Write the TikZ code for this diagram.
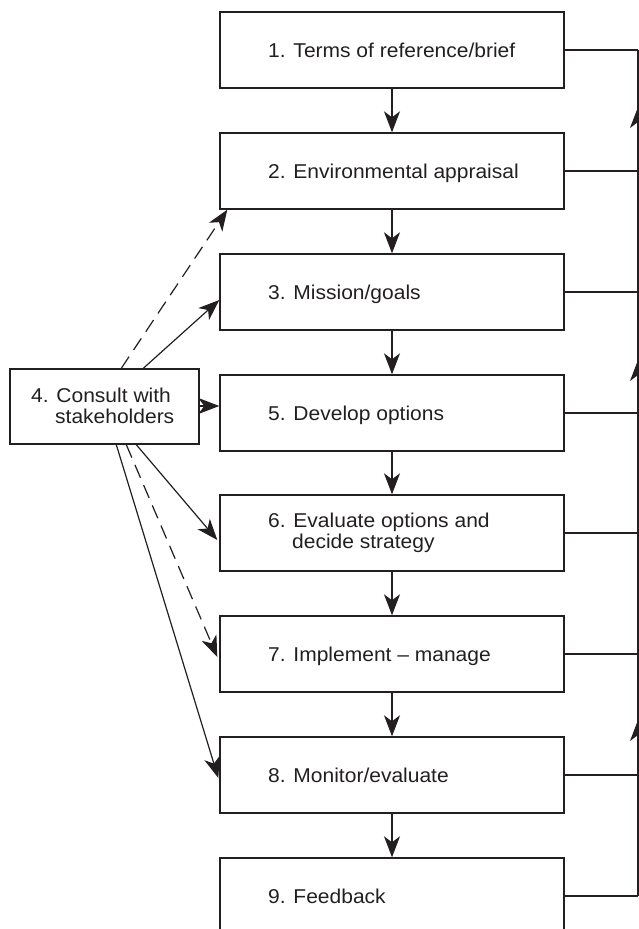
\documentclass[tikz,border=0pt]{standalone}
\usepackage{fontspec}
\setmainfont[FakeStretch=1.05]{Liberation Sans}
\usetikzlibrary{arrows.meta,calc}
\definecolor{ink}{HTML}{231F20}
\begin{document}
\begin{tikzpicture}[x=1pt,y=-1pt,
  stagebox/.style={draw=ink, line width=1.4pt, minimum width=344pt,
    minimum height=76pt, inner sep=0pt},
  sidebox/.style={draw=ink, line width=1.4pt, minimum width=189pt,
    minimum height=75pt, inner sep=0pt},
  lbl/.style={anchor=base west, inner sep=0pt, align=left,
    font=\fontsize{20}{21}\selectfont, text=ink},
  tip/.style={-{Stealth[length=21pt,width=16pt,inset=6pt]}},
  flow/.style={draw=ink, line width=1.2pt, tip},
  consult/.style={flow},
  consultdash/.style={flow, dash pattern=on 14pt off 8pt},
  back/.style={draw=ink, line width=1.2pt},
]
\useasboundingbox (0,0) rectangle (639,929);

% main sequence of stages
\node[stagebox] (b1) at (392,50) {};
\node[stagebox] (b2) at (392,171) {};
\node[stagebox] (b3) at (392,292) {};
\node[stagebox] (b5) at (392,413) {};
\node[stagebox] (b6) at (392,533) {};
\node[stagebox] (b7) at (392,654) {};
\node[stagebox] (b8) at (392,775) {};
\node[stagebox] (b9) at (392,896) {};

% stakeholder consultation
\node[sidebox] (b4) at (104.5,406.5) {};

% stage labels (base anchor sits on the last line)
\node[lbl] (t1) at (268,57) {1. Terms of reference/brief};
\node[lbl] (t2) at (268,178) {2. Environmental appraisal};
\node[lbl] (t3) at (268,299) {3. Mission/goals};
\node[lbl] (t5) at (268,420) {5. Develop options};
\node[lbl] (t6) at (268,548) {6. Evaluate options and\\\hspace*{24pt}decide strategy};
\node[lbl] (t7) at (268,661) {7. Implement -- manage};
\node[lbl] (t8) at (268,782) {8. Monitor/evaluate};
\node[lbl] (t9) at (268,903) {9. Feedback};
\node[lbl] (t4) at (31,423) {4. Consult with\\\hspace*{24pt}stakeholders};

% downward flow between stages
\draw[flow] (b1.south) -- (b2.north);
\draw[flow] (b2.south) -- (b3.north);
\draw[flow] (b3.south) -- (b5.north);
\draw[flow] (b5.south) -- (b6.north);
\draw[flow] (b6.south) -- (b7.north);
\draw[flow] (b7.south) -- (b8.north);
\draw[flow] (b8.south) -- (b9.north);

% consultation links
\draw[consultdash] ($(b4.north west)+(112,0)$) -- ($(b2.south west)+(8,0)$);
\draw[consult] ($(b4.north west)+(134,0)$) -- ($(b3.west)+(0,8)$);
\draw[consult] (b4.east |- 0,406) -- (b5.west |- 0,406);
\draw[consult] ($(b4.south west)+(127,0)$) -- ($(b6.west)+(-2,7)$);
\draw[consultdash] ($(b4.south west)+(117,0)$) -- ($(b7.west)+(-2,3)$);
\draw[consult] ($(b4.south west)+(107,0)$) -- ($(b8.west)+(-1,3)$);

% feedback loop on the right
\foreach \k in {1,2,3,5,6,7,8,9} {
  \coordinate (r\k) at (b\k.east -| 638,0);
  \draw[back] (b\k.east) -- (r\k);
}
\draw[back] (r1) -- (r9);
\coordinate (u1) at (638,107);
\coordinate (u2) at (638,360);
\coordinate (u3) at (638,720);
\draw[back, tip] (r2) -- (u1);
\draw[back, tip] (r5) -- (u2);
\draw[back, tip] (r8) -- (u3);
\end{tikzpicture}
\end{document}
